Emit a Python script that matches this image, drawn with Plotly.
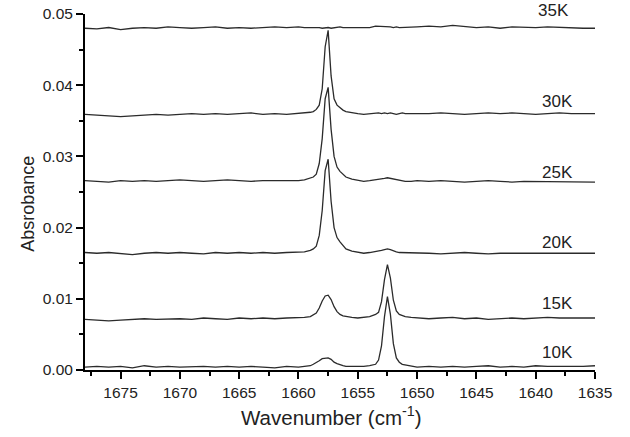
import plotly.graph_objects as go

# Wavenumber grid (cm^-1)
wavenumber = [1678, 1677, 1676, 1675, 1674, 1673, 1672, 1671, 1670, 1669, 1668, 1667, 1666, 1665, 1664, 1663, 1662, 1661, 1660,
              1659.5, 1659, 1658.75, 1658.5, 1658.25, 1658, 1657.75, 1657.5, 1657.25, 1657, 1656.75, 1656.5, 1656.25, 1656,
              1655.5, 1655, 1654.5, 1654, 1653.5,
              1653.25, 1653, 1652.75, 1652.5, 1652.25, 1652, 1651.75, 1651.5, 1651.25, 1651,
              1650.5, 1650, 1649, 1648, 1647, 1646, 1645, 1644, 1643, 1642, 1641, 1640, 1639, 1638, 1637, 1636, 1635]

abs_10K = [0.0004, 0.0005, 0.0004, 0.0005, 0.0003, 0.0006, 0.0004, 0.0005, 0.0004, 0.0005, 0.0005, 0.0004, 0.0005, 0.0004, 0.0005, 0.0004, 0.0003, 0.0005, 0.0004,
           0.0005, 0.0006, 0.0008, 0.0010, 0.0013, 0.0016, 0.0017, 0.0017, 0.0015, 0.0011, 0.0009, 0.0007, 0.0006, 0.0005,
           0.0005, 0.0004, 0.0005, 0.0006, 0.0008,
           0.0014, 0.0034, 0.0075, 0.0103, 0.0078, 0.0037, 0.0017, 0.0011, 0.0008, 0.0007,
           0.0005, 0.0004, 0.0005, 0.0004, 0.0005, 0.0004, 0.0005, 0.0006, 0.0004, 0.0005, 0.0004, 0.0006, 0.0005, 0.0005, 0.0004, 0.0005, 0.0006]

abs_15K = [0.0071, 0.0070, 0.0069, 0.0070, 0.0071, 0.0072, 0.0071, 0.0072, 0.0072, 0.0071, 0.0073, 0.0072, 0.0071, 0.0073, 0.0072, 0.0073, 0.0072, 0.0073, 0.0073,
           0.0074, 0.0075, 0.0077, 0.0080, 0.0087, 0.0097, 0.0104, 0.0105, 0.0099, 0.0089, 0.0082, 0.0078, 0.0076, 0.0075,
           0.0074, 0.0073, 0.0074, 0.0075, 0.0078,
           0.0081, 0.0096, 0.0127, 0.0148, 0.0129, 0.0098, 0.0083, 0.0078, 0.0076, 0.0075,
           0.0074, 0.0073, 0.0072, 0.0073, 0.0074, 0.0072, 0.0073, 0.0071, 0.0072, 0.0073, 0.0072, 0.0073, 0.0074, 0.0073, 0.0073, 0.0073, 0.0073]

abs_20K = [0.0165, 0.0164, 0.0165, 0.0163, 0.0162, 0.0164, 0.0165, 0.0164, 0.0165, 0.0164, 0.0163, 0.0165, 0.0164, 0.0165, 0.0164, 0.0165, 0.0164, 0.0165, 0.0165,
           0.0166, 0.0168, 0.0170, 0.0174, 0.0189, 0.0224, 0.0280, 0.0296, 0.0237, 0.0200, 0.0186, 0.0180, 0.0175, 0.0170,
           0.0167, 0.0165, 0.0164, 0.0165, 0.0166,
           0.0167, 0.0168, 0.0169, 0.0170, 0.0169, 0.0167, 0.0166, 0.0165, 0.0165, 0.0164,
           0.0164, 0.0165, 0.0164, 0.0163, 0.0164, 0.0165, 0.0164, 0.0163, 0.0164, 0.0164, 0.0163, 0.0164, 0.0164, 0.0164, 0.0164, 0.0164, 0.0164]

abs_25K = [0.0266, 0.0265, 0.0264, 0.0266, 0.0265, 0.0266, 0.0265, 0.0266, 0.0267, 0.0266, 0.0265, 0.0266, 0.0267, 0.0266, 0.0265, 0.0266, 0.0266, 0.0265, 0.0266,
           0.0267, 0.0269, 0.0271, 0.0275, 0.0290, 0.0325, 0.0381, 0.0397, 0.0338, 0.0300, 0.0285, 0.0279, 0.0275, 0.0271,
           0.0268, 0.0266, 0.0265, 0.0266, 0.0267,
           0.0267, 0.0268, 0.0269, 0.0270, 0.0269, 0.0268, 0.0267, 0.0266, 0.0266, 0.0265,
           0.0265, 0.0266, 0.0265, 0.0266, 0.0265, 0.0264, 0.0265, 0.0266, 0.0265, 0.0264, 0.0265, 0.0265, 0.0264, 0.0265, 0.0265, 0.0264, 0.0264]

abs_30K = [0.0359, 0.0358, 0.0357, 0.0356, 0.0357, 0.0358, 0.0359, 0.0358, 0.0359, 0.0360, 0.0359, 0.0360, 0.0359, 0.0360, 0.0361, 0.0359, 0.0360, 0.0359, 0.0360,
           0.0361, 0.0362, 0.0363, 0.0366, 0.0372, 0.0395, 0.0454, 0.0477, 0.0413, 0.0381, 0.0372, 0.0368, 0.0365, 0.0363,
           0.0361, 0.0360, 0.0359, 0.0360, 0.0361,
           0.0361, 0.0360, 0.0361, 0.0360, 0.0361, 0.0360, 0.0359, 0.0360, 0.0361, 0.0360,
           0.0360, 0.0359, 0.0360, 0.0361, 0.0360, 0.0359, 0.0360, 0.0361, 0.0360, 0.0361, 0.0360, 0.0359, 0.0360, 0.0361, 0.0360, 0.0360, 0.0360]

abs_35K = [0.0480, 0.0479, 0.0481, 0.0478, 0.0480, 0.0481, 0.0480, 0.0482, 0.0481, 0.0480, 0.0481, 0.0482, 0.0480, 0.0481, 0.0480, 0.0481, 0.0482, 0.0481, 0.0482,
           0.0481, 0.0481, 0.0482, 0.0481, 0.0481, 0.0480, 0.0481, 0.0481, 0.0480, 0.0481, 0.0481, 0.0482, 0.0481, 0.0481,
           0.0480, 0.0481, 0.0480, 0.0481, 0.0483,
           0.0483, 0.0483, 0.0482, 0.0483, 0.0482, 0.0481, 0.0482, 0.0481, 0.0481, 0.0482,
           0.0481, 0.0482, 0.0483, 0.0482, 0.0484, 0.0482, 0.0481, 0.0482, 0.0480, 0.0482, 0.0481, 0.0481, 0.0482, 0.0481, 0.0481, 0.0480, 0.0480]

series_names = ["10K", "15K", "20K", "25K", "30K", "35K"]
series_values = [abs_10K, abs_15K, abs_20K, abs_25K, abs_30K, abs_35K]

# Temperature labels: x in wavenumber, y as fraction of the plot height (1 = top of axis)
label_text = ["10K", "15K", "20K", "25K", "30K", "35K"]
label_x = [1638.2, 1638.2, 1638.2, 1638.2, 1638.2, 1638.5]
label_y_frac = [0.048, 0.188, 0.358, 0.556, 0.754, 1.011]

FONT = "Liberation Sans, Arial, sans-serif"
LINE = "#2b2b2b"

fig = go.Figure()
for name, vals in zip(series_names, series_values):
    fig.add_trace(go.Scatter(x=wavenumber, y=vals, mode="lines", name=name,
                             line=dict(color=LINE, width=1.3), showlegend=False))

for t, lx, ly in zip(label_text, label_x, label_y_frac):
    fig.add_annotation(x=lx, y=ly, xref="x", yref="paper", text=t, showarrow=False,
                       xanchor="center", yanchor="middle",
                       font=dict(family=FONT, size=17, color="#222"))

fig.add_annotation(x=0.483, y=-0.13, xref="paper", yref="paper", text="Wavenumber (cm<sup>-1</sup>)",
                   showarrow=False, xanchor="center", yanchor="middle",
                   font=dict(family=FONT, size=20.5, color="#222"))
fig.add_annotation(x=-0.111, y=0.468, xref="paper", yref="paper", text="Absrobance", textangle=-90,
                   showarrow=False, xanchor="center", yanchor="middle",
                   font=dict(family=FONT, size=18, color="#222"))

fig.update_layout(
    width=630, height=437,
    margin=dict(l=85, r=35, t=14, b=67, autoexpand=False),
    paper_bgcolor="white", plot_bgcolor="white",
    font=dict(family=FONT, size=15, color="#222"),
)
fig.update_xaxes(range=[1678, 1635], tick0=1635, dtick=5, ticks="outside", ticklen=7, tickwidth=1.5,
                 tickcolor="black", showline=True, linewidth=2, linecolor="black", showgrid=False,
                 zeroline=False, automargin=False, tickfont=dict(family=FONT, size=15.5, color="#222"),
                 minor=dict(dtick=2.5, tick0=1635, ticks="outside", ticklen=4, tickwidth=1.5, tickcolor="black"))
fig.update_yaxes(range=[0, 0.05], tick0=0, dtick=0.01, tickformat=".2f", ticks="outside", ticklen=7,
                 tickwidth=1.5, tickcolor="black", showline=True, linewidth=2, linecolor="black",
                 showgrid=False, zeroline=False, automargin=False, tickfont=dict(family=FONT, size=15.5, color="#222"),
                 minor=dict(dtick=0.005, tick0=0, ticks="outside", ticklen=4, tickwidth=1.5, tickcolor="black"))

fig.write_html("out.html", config={"displayModeBar": False},
               post_script="document.body.style.margin='0';document.body.style.overflow='hidden';")
